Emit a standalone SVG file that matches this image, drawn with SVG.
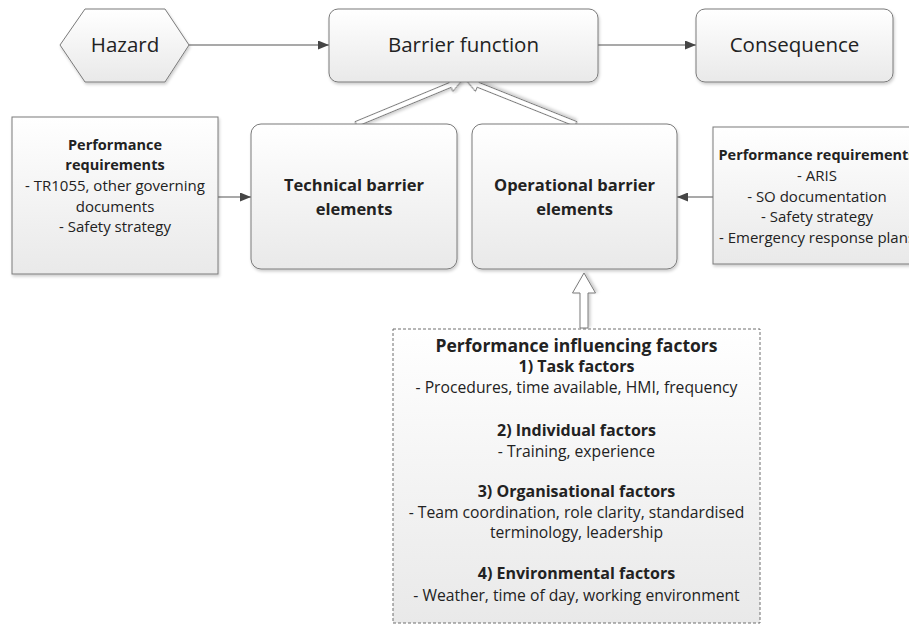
<svg xmlns="http://www.w3.org/2000/svg" width="909" height="633" viewBox="0 0 909 633">
<defs>
<linearGradient id="g" x1="0" y1="0" x2="0" y2="1"><stop offset="0" stop-color="#ffffff"/><stop offset="1" stop-color="#e9e9e9"/></linearGradient>
<filter id="sh" x="-10%" y="-10%" width="125%" height="130%"><feDropShadow dx="1" dy="2" stdDeviation="1.5" flood-color="#000" flood-opacity="0.2"/></filter>
<marker id="ah" markerUnits="userSpaceOnUse" markerWidth="11" markerHeight="9" refX="11" refY="4.5" orient="auto"><path d="M0,0 L11,4.5 L0,9 z" fill="#454545"/></marker>
<style>
.box{fill:url(#g);stroke:#7a7a7a;stroke-width:1;filter:url(#sh)}
.pif{fill:url(#g);stroke:#6e6e6e;stroke-width:1;stroke-dasharray:3,2}
.t{font-family:"Open Sans","Noto Sans",sans-serif;fill:#222;text-anchor:middle}
.big{font-size:20.5px}
.bb{font-size:16.5px;font-weight:bold}
.s{font-size:15px}
.sb{font-size:14.5px;font-weight:bold}
.m{font-size:15.7px}
.mb{font-size:16px;font-weight:bold}
.con{stroke:#555;stroke-width:1.2;fill:none;marker-end:url(#ah)}
.ha{fill:#fff;stroke:#7a7a7a;stroke-width:1;filter:url(#sh)}
</style>
</defs>

<g id="connectors">
<line class="con" x1="189" y1="45" x2="329" y2="45"/>
<line class="con" x1="598" y1="45" x2="696" y2="45"/>
<line class="con" x1="218" y1="197" x2="251" y2="197"/>
<line class="con" x1="713" y1="197" x2="677" y2="197"/>
<path class="ha" transform="translate(356,124) rotate(-22.5)" d="M0,-2.5 L102,-2.5 L102,-7 L115,0 L102,7 L102,2.5 L0,2.5 Z"/>
<path class="ha" transform="translate(576,124) rotate(-158.2)" d="M0,-2.5 L105.5,-2.5 L105.5,-7 L118.5,0 L105.5,7 L105.5,2.5 L0,2.5 Z"/>
<path class="ha" transform="translate(584,328) rotate(-90)" d="M0,-4 L35,-4 L35,-11.5 L55,0 L35,11.5 L35,4 L0,4 Z"/>
</g>

<g id="hazard">
<polygon class="box" points="60,45 85,9 165,9 189,45 165,82 85,82"/>
<text class="t big" x="125" y="52">Hazard</text>
</g>

<g id="barrier-function">
<rect class="box" x="329" y="9" width="269" height="73" rx="9"/>
<text class="t big" x="463.5" y="52">Barrier function</text>
</g>

<g id="consequence">
<rect class="box" x="696" y="9" width="197" height="73" rx="9"/>
<text class="t big" x="794.5" y="52">Consequence</text>
</g>

<g id="perf-req-left">
<rect class="box" x="12" y="117" width="206" height="157"/>
<text class="t sb" x="115" y="150">Performance</text>
<text class="t sb" x="115" y="170">requirements</text>
<text class="t s" x="115" y="191">- TR1055, other governing</text>
<text class="t s" x="115" y="212">documents</text>
<text class="t s" x="115" y="232">- Safety strategy</text>
</g>

<g id="technical">
<rect class="box" x="251" y="124" width="206" height="145" rx="10"/>
<text class="t bb" x="354" y="191">Technical barrier</text>
<text class="t bb" x="354" y="215">elements</text>
</g>

<g id="operational">
<rect class="box" x="472" y="124" width="205" height="145" rx="10"/>
<text class="t bb" x="574.5" y="191">Operational barrier</text>
<text class="t bb" x="574.5" y="215">elements</text>
</g>

<g id="perf-req-right">
<rect class="box" x="713" y="127" width="210" height="137"/>
<text class="t sb" x="817" y="160">Performance requirements</text>
<text class="t s" x="817" y="181">- ARIS</text>
<text class="t s" x="817" y="202">- SO documentation</text>
<text class="t s" x="817" y="222">- Safety strategy</text>
<text class="t s" x="817" y="243">- Emergency response plans</text>
</g>

<g id="pif">
<rect class="pif" x="393" y="329" width="367" height="294"/>
<text class="t" x="576.5" y="352" style="font-size:17.5px;font-weight:bold">Performance influencing factors</text>
<text class="t mb" x="576.5" y="372">1) Task factors</text>
<text class="t m" x="576.5" y="393">- Procedures, time available, HMI, frequency</text>
<text class="t mb" x="576.5" y="436">2) Individual factors</text>
<text class="t m" x="576.5" y="457">- Training, experience</text>
<text class="t mb" x="576.5" y="497">3) Organisational factors</text>
<text class="t m" x="576.5" y="518">- Team coordination, role clarity, standardised</text>
<text class="t m" x="576.5" y="538">terminology, leadership</text>
<text class="t mb" x="576.5" y="579">4) Environmental factors</text>
<text class="t m" x="576.5" y="601">- Weather, time of day, working environment</text>
</g>
</svg>
